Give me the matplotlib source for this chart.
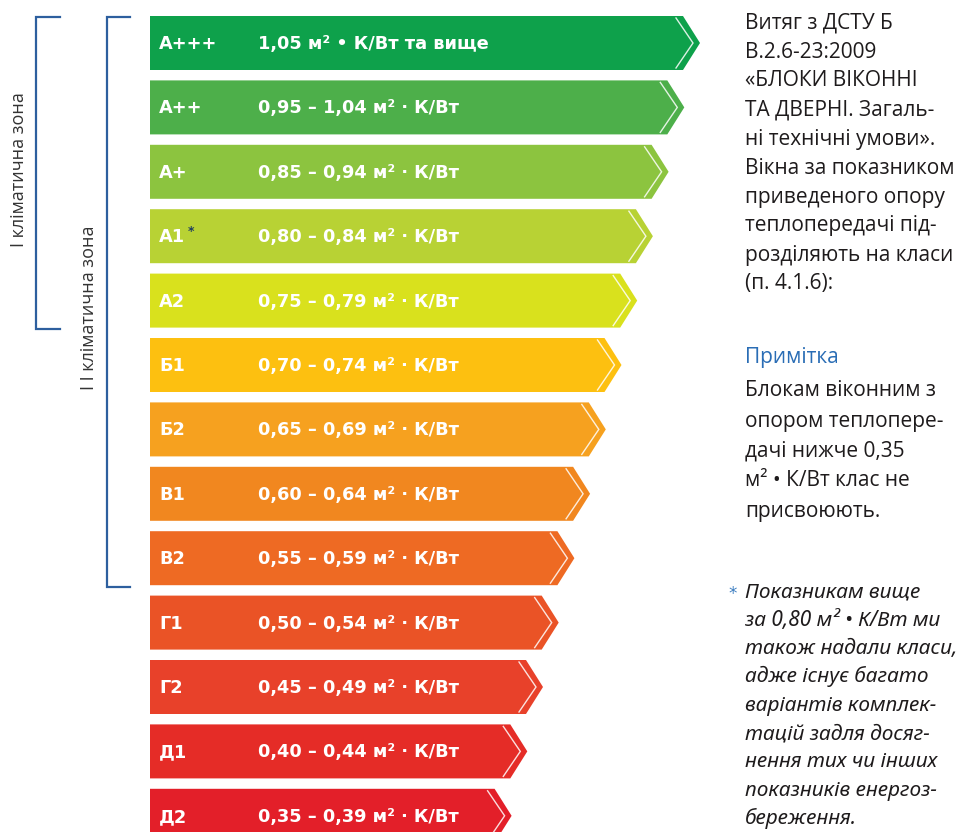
import matplotlib
matplotlib.use("Agg")
import matplotlib.pyplot as plt
from matplotlib.patches import Polygon

# ---------------- data ----------------
classes = ["А+++", "А++", "А+", "А1", "А2", "Б1", "Б2", "В1", "В2", "Г1", "Г2", "Д1", "Д2"]
ranges = ["1,05 м² • К/Вт та вище",
          "0,95 – 1,04 м² · К/Вт",
          "0,85 – 0,94 м² · К/Вт",
          "0,80 – 0,84 м² · К/Вт",
          "0,75 – 0,79 м² · К/Вт",
          "0,70 – 0,74 м² · К/Вт",
          "0,65 – 0,69 м² · К/Вт",
          "0,60 – 0,64 м² · К/Вт",
          "0,55 – 0,59 м² · К/Вт",
          "0,50 – 0,54 м² · К/Вт",
          "0,45 – 0,49 м² · К/Вт",
          "0,40 – 0,44 м² · К/Вт",
          "0,35 – 0,39 м² · К/Вт"]
colors = ["#0ea14b", "#4daf4a", "#8cc43f", "#b8d234", "#d9e11d", "#fdc010",
          "#f6a11f", "#f1871f", "#ee6a23", "#ea5326", "#e8412a", "#e52c27", "#e31f29"]
starred = ["А1"]

zone1_label = "I кліматична зона"
zone2_label = "I I кліматична зона"
zone1_classes = ["А+++", "А++", "А+", "А1", "А2"]
zone2_classes = ["А+++", "А++", "А+", "А1", "А2", "Б1", "Б2", "В1", "В2"]

para1 = ["Витяг з ДСТУ Б", "В.2.6-23:2009", "«БЛОКИ ВІКОННІ", "ТА ДВЕРНІ. Загаль-",
         "ні технічні умови».", "Вікна за показником", "приведеного опору",
         "теплопередачі під-", "розділяють на класи", "(п. 4.1.6):"]
note_title = "Примітка"
para2 = ["Блокам віконним з", "опором теплопере-", "дачі нижче 0,35",
         "м² • К/Вт клас не", "присвоюють."]
para3 = ["Показникам вище", "за 0,80 м² • К/Вт ми", "також надали класи,",
         "адже існує багато", "варіантів комплек-", "тацій задля досяг-",
         "нення тих чи інших", "показників енергоз-", "береження."]

# ---------------- layout ----------------
W, H = 962, 832
fig = plt.figure(figsize=(W / 100, H / 100), dpi=100)
ax = fig.add_axes([0, 0, 1, 1])
ax.set_xlim(0, W)
ax.set_ylim(H, 0)
ax.axis("off")

bar_left = 150
bar_top0 = 16
pitch = 64.4
bar_h = 54
tip0 = 700
tip_step = 15.7
tip_depth = 17

bar_font = dict(family=["DejaVu Sans"], fontweight="bold",
                fontsize=12.8, color="white", va="center", ha="left")

tops = {}
for i, (cls, rng, col) in enumerate(zip(classes, ranges, colors)):
    top = bar_top0 + i * pitch
    tops[cls] = top
    tip = tip0 - i * tip_step
    body = tip - tip_depth
    mid = top + bar_h / 2
    poly = Polygon([(bar_left, top), (body, top), (tip, mid), (body, top + bar_h),
                    (bar_left, top + bar_h)], closed=True, facecolor=col,
                   edgecolor="none")
    ax.add_patch(poly)
    ax.plot([body - 7, tip - 7, body - 7], [top + 2, mid, top + bar_h - 2],
            color="white", lw=1.0, alpha=0.85, solid_joinstyle="miter")
    ax.text(bar_left + 9, mid + 1, cls, **bar_font)
    if cls in starred:
        ax.text(bar_left + 38, mid - 5, "*", family="DejaVu Sans", fontweight="bold",
                fontsize=9, color="#1f3f5f", va="center", ha="left")
    ax.text(258, mid + 1, rng, **bar_font)

# brackets
br_col = "#2d5f9e"
def bracket(x, y0, y1, tick):
    ax.plot([x + tick, x, x, x + tick], [y0, y0, y1, y1], color=br_col, lw=1.6,
            solid_joinstyle="miter")

z1_top = tops[zone1_classes[0]] + 1
z1_bot = tops[zone1_classes[-1]] + bar_h + 1
z2_bot = tops[zone2_classes[-1]] + bar_h + 2
bracket(36, z1_top, z1_bot, 24)
bracket(107, z1_top, z2_bot, 23)

lab_font = dict(family=["Open Sans", "DejaVu Sans"], fontsize=13, color="#333333",
                rotation=90, ha="center", va="center")
ax.text(19, (z1_top + z1_bot) / 2 - 3, zone1_label, **lab_font)
ax.text(89, (z1_top + z2_bot) / 2 + 6, zone2_label, **lab_font)

# right-hand text
txt_font = dict(family=["Open Sans", "DejaVu Sans"], fontsize=15, color="#1e1b1c",
                ha="left", va="center")
tx = 745
for j, line in enumerate(para1):
    ax.text(tx, 23 + j * 29, line, **txt_font)
ax.text(tx, 358, note_title, **{**txt_font, "color": "#2a6db5"})
for j, line in enumerate(para2):
    ax.text(tx, 391 + j * 30, line, **txt_font)
it_font = {**txt_font, "family": ["Noto Sans", "DejaVu Sans"], "style": "italic"}
ax.text(728, 594, "*", family="DejaVu Sans", fontsize=12, color="#3a7cc0",
        ha="left", va="center")
for j, line in enumerate(para3):
    ax.text(tx, 592 + j * 28.3, line, **it_font)

fig.savefig("out.png", dpi=100)
